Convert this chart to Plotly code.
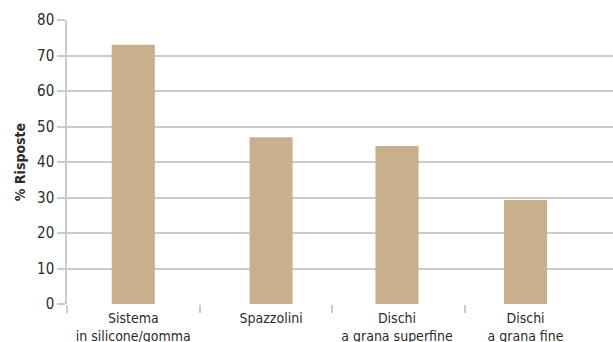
import plotly.graph_objects as go

# Survey results: share of respondents per polishing system
categories = ["Sistema<br>in silicone/gomma", "Spazzolini",
              "Dischi<br>a grana superfine", "Dischi<br>a grana fine"]
positions = [0, 1.04, 1.99, 2.96]
values = [73, 47, 44.5, 29.3]
y_ticks = [0, 10, 20, 30, 40, 50, 60, 70, 80]
group_edges = [-0.5, 0.5, 1.5, 2.5]

font_family = "DejaVu Sans Condensed, Liberation Sans Narrow, Arial Narrow, sans-serif"
grid_col = "#cbcbcb"
text_col = "#2b2b2b"

fig = go.Figure(
    go.Bar(
        x=positions,
        y=values,
        width=0.325,
        marker=dict(color="#c7b08b", line=dict(width=0)),
        hoverinfo="skip",
    )
)

fig.update_layout(
    width=613,
    height=342,
    margin=dict(l=67, r=0, t=20, b=38),
    paper_bgcolor="white",
    plot_bgcolor="white",
    showlegend=False,
    font=dict(family=font_family, size=14, color=text_col),
)

fig.update_xaxes(
    range=[-0.5, 3.62],
    tickmode="array",
    tickvals=positions,
    ticktext=categories,
    ticks="",
    ticklabelstandoff=4,
    automargin=False,
    showgrid=False,
    zeroline=False,
    showline=False,
    tickfont=dict(size=14, color=text_col),
    minor=dict(
        tickmode="array",
        tickvals=group_edges,
        ticks="outside",
        ticklen=8,
        tickwidth=1.5,
        tickcolor=grid_col,
        showgrid=False,
    ),
)

fig.update_yaxes(
    range=[0, 80],
    tickmode="array",
    tickvals=y_ticks,
    ticks="outside",
    ticklen=8,
    tickwidth=1.5,
    tickcolor=grid_col,
    showgrid=True,
    gridcolor=grid_col,
    gridwidth=1.5,
    zeroline=False,
    showline=True,
    linecolor=grid_col,
    linewidth=1.5,
    automargin=False,
    tickfont=dict(size=15, color=text_col),
    title=dict(text="<b>% Risposte</b>", font=dict(size=14, color=text_col), standoff=8),
)

fig.write_html("out.html")
